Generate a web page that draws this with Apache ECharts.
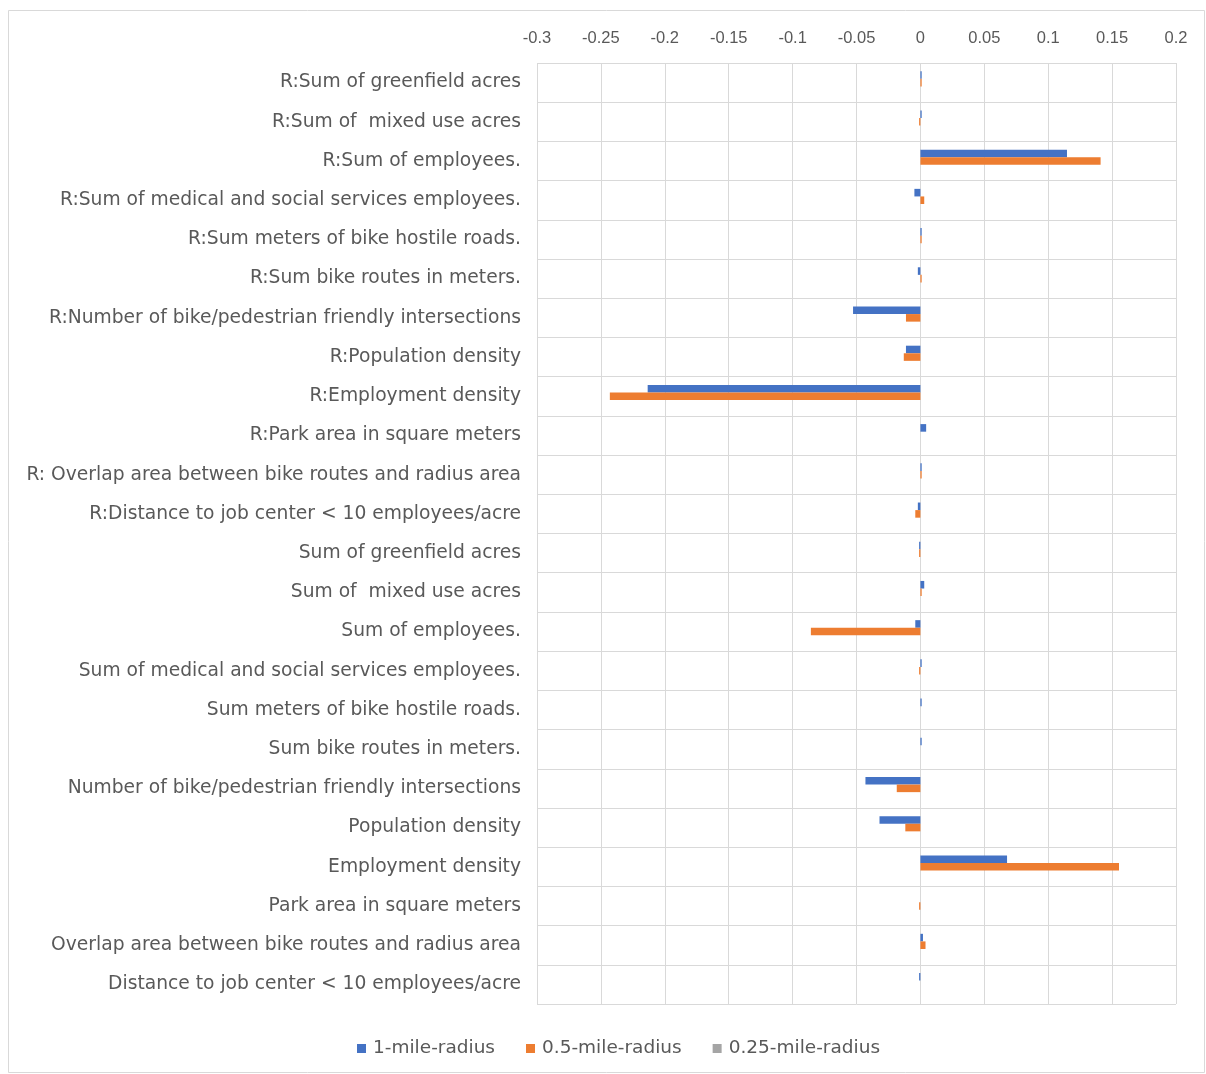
<!DOCTYPE html>
<html>
<head>
<meta charset="utf-8">
<script src="https://cdn.jsdelivr.net/npm/echarts@6/dist/echarts.min.js"></script>
<style>
  html, body { margin: 0; padding: 0; background: #ffffff; }
  #chart { width: 1206px; height: 1074px; }
</style>
</head>
<body>
<div id="chart"></div>
<script>
// Predictor names, listed top to bottom
const categories = [
  'R:Sum of greenfield acres',
  'R:Sum of  mixed use acres',
  'R:Sum of employees.',
  'R:Sum of medical and social services employees.',
  'R:Sum meters of bike hostile roads.',
  'R:Sum bike routes in meters.',
  'R:Number of bike/pedestrian friendly intersections',
  'R:Population density',
  'R:Employment density',
  'R:Park area in square meters',
  'R: Overlap area between bike routes and radius area',
  'R:Distance to job center < 10 employees/acre',
  'Sum of greenfield acres',
  'Sum of  mixed use acres',
  'Sum of employees.',
  'Sum of medical and social services employees.',
  'Sum meters of bike hostile roads.',
  'Sum bike routes in meters.',
  'Number of bike/pedestrian friendly intersections',
  'Population density',
  'Employment density',
  'Park area in square meters',
  'Overlap area between bike routes and radius area',
  'Distance to job center < 10 employees/acre'
];

const seriesNames = ['1-mile-radius', '0.5-mile-radius', '0.25-mile-radius'];

const oneMile = [
  0.001, 0.001, 0.1147, -0.0047, 0.001, -0.002, -0.0527, -0.0113, -0.2134, 0.0045, 0.001, -0.002,
  -0.001, 0.003, -0.004, 0.001, 0.001, 0.001, -0.043, -0.032, 0.0678, 0, 0.002, -0.001
];
const halfMile = [
  0.001, -0.001, 0.141, 0.003, 0.001, 0.001, -0.0113, -0.013, -0.243, 0, 0.001, -0.004,
  -0.001, 0.001, -0.0857, -0.001, 0, 0, -0.0185, -0.0118, 0.1554, -0.001, 0.004, 0
];
const quarterMile = [
  0, 0, 0, 0, 0, 0, 0, 0, 0, 0, 0, 0,
  0, 0, 0, 0, 0, 0, 0, 0, 0, 0, 0, 0
];

const colors = ['#4472C4', '#ED7D31', '#A5A5A5'];
const textColor = '#595959';
const gridColor = '#D9D9D9';
const labelFont = 'DejaVu Sans, Liberation Sans, sans-serif';

const chart = echarts.init(document.getElementById('chart'), null, { renderer: 'canvas' });

const values = [oneMile, halfMile, quarterMile];

chart.setOption({
  backgroundColor: '#ffffff',
  animation: false,
  color: colors,
  textStyle: { fontFamily: 'Liberation Sans, Arial, sans-serif' },
  graphic: [{
    type: 'rect',
    shape: { x: 8.5, y: 10.5, width: 1196, height: 1062 },
    style: { fill: 'none', stroke: gridColor, lineWidth: 1 },
    silent: true
  }],
  grid: { left: 537, right: 30, top: 63, bottom: 70, containLabel: false },
  legend: {
    bottom: 11,
    left: 352,
    itemWidth: 9,
    itemHeight: 9,
    itemGap: 31,
    icon: 'rect',
    textStyle: { color: textColor, fontSize: 18.5, fontFamily: labelFont, padding: [0, 0, 0, 2] },
    data: seriesNames
  },
  xAxis: {
    type: 'value',
    position: 'top',
    min: -0.3,
    max: 0.2,
    interval: 0.05,
    axisLine: { show: false },
    axisTick: { show: false },
    axisLabel: { color: textColor, fontSize: 16.5, margin: 16 },
    splitLine: { show: true, lineStyle: { color: gridColor, width: 1 } }
  },
  yAxis: {
    type: 'category',
    inverse: true,
    data: categories,
    axisLine: { show: false },
    axisTick: { show: false },
    axisLabel: { color: textColor, fontSize: 18.7, fontFamily: labelFont, margin: 16 },
    splitLine: { show: true, lineStyle: { color: gridColor, width: 1 } }
  },
  series: seriesNames.map((name, i) => ({
    name: name,
    type: 'bar',
    data: values[i],
    barGap: '0%',
    barCategoryGap: '42%',
    itemStyle: { color: colors[i] }
  }))
});
</script>
</body>
</html>
